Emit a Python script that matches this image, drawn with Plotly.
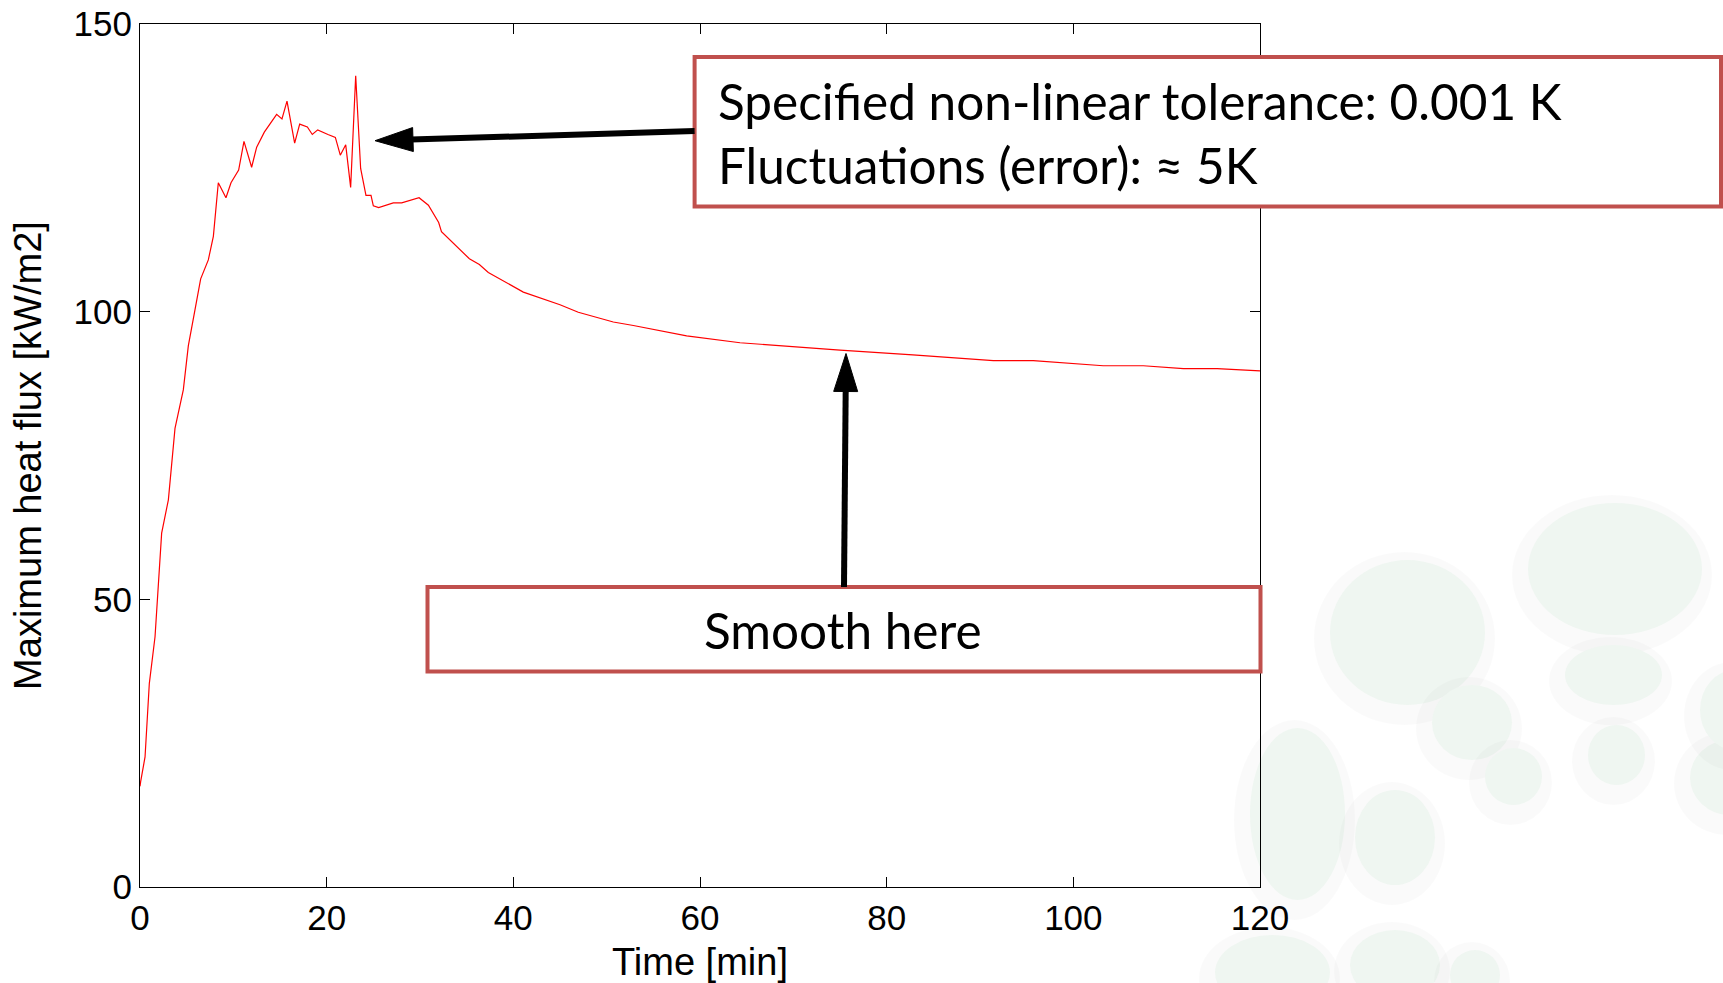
import numpy as np
import plotly.graph_objects as go

# ---------------- data ----------------
time_min = [0.0, 0.07, 0.54, 1.0, 1.61, 1.86, 2.32, 3.04, 3.75, 4.64, 5.18, 5.89, 6.5,
            7.32, 7.86, 8.39, 9.21, 9.75, 10.57, 11.14, 11.96, 12.5, 13.32, 14.64, 15.21,
            15.75, 16.57, 17.11, 17.93, 18.46, 19.04, 20.14, 20.93, 21.46, 22.04, 22.57,
            23.11, 23.64, 24.21, 24.75, 25.0, 25.57, 27.14, 28.04, 29.9, 30.9, 31.6, 32.0,
            32.3, 33.57, 35.29, 36.36, 37.32, 41.07, 45.0, 46.96, 50.71, 52.86, 56.43,
            58.57, 64.29, 69.29, 75.0, 82.8, 91.43, 95.71, 103.2, 107.5, 111.8, 115.4, 120.0]
heat_flux = [17.5, 18.3, 22.6, 35.4, 43.5, 50.1, 61.5, 67.3, 79.7, 86.4, 94.1, 100.3, 105.7,
             109.0, 113.1, 122.4, 119.8, 122.4, 124.6, 129.6, 125.1, 128.6, 131.2, 134.3, 133.5,
             136.6, 129.3, 132.6, 132.1, 130.8, 131.6, 130.8, 130.3, 127.2, 129.0, 121.6,
             141.0, 124.9, 120.2, 120.2, 118.4, 118.1, 118.9, 118.9, 119.8, 118.5, 116.6, 115.5,
             113.9, 111.9, 109.2, 108.2, 106.8, 103.4, 101.2, 99.9, 98.2, 97.6, 96.4,
             95.8, 94.6, 94.0, 93.3, 92.5, 91.5, 91.5, 90.6, 90.6, 90.1, 90.1, 89.7]

x_ticks = [0, 20, 40, 60, 80, 100, 120]
y_ticks = [0, 50, 100, 150]

note_top = "Specified non-linear tolerance: 0.001 K<br>Fluctuations (error): ≈ 5K"
note_bottom = "Smooth here"

# ---------------- layout geometry (pixels) ----------------
W, H = 1723, 983
L, R, T, B = 140, 1260, 24, 887


def px(x):
    return (x - L) / (R - L)


def py(y):
    return (B - y) / (B - T)


BOX_RED = "#C0504D"
shapes = []

# faint decorative background discs (bottom-right)
discs = [
    (1528, 1702, 503, 635), (1330, 1485, 560, 705), (1250, 1345, 728, 900),
    (1432, 1512, 685, 760), (1565, 1662, 645, 705), (1588, 1645, 725, 785),
    (1485, 1542, 748, 805), (1355, 1435, 790, 885), (1690, 1770, 740, 815),
    (1700, 1770, 670, 750), (1215, 1330, 935, 1010), (1350, 1440, 930, 1000),
    (1450, 1500, 950, 1000),
]
for x0, x1, y0, y1 in discs:
    shapes.append(dict(type="circle", xref="paper", yref="paper", layer="below",
                       x0=px(x0 - 16), x1=px(x1 + 10), y0=py(y1 + 20), y1=py(y0 - 8),
                       fillcolor="rgba(0,0,0,0.018)", line=dict(width=0)))
    shapes.append(dict(type="circle", xref="paper", yref="paper", layer="below",
                       x0=px(x0), x1=px(x1), y0=py(y1), y1=py(y0),
                       fillcolor="#EFF6F1", line=dict(width=0)))

# annotation boxes
shapes.append(dict(type="rect", xref="paper", yref="paper", layer="above",
                   x0=px(694.6), x1=px(1721), y0=py(206.6), y1=py(57),
                   fillcolor="white", line=dict(color=BOX_RED, width=4)))
shapes.append(dict(type="rect", xref="paper", yref="paper", layer="above",
                   x0=px(427.5), x1=px(1260.5), y0=py(671.5), y1=py(587),
                   fillcolor="white", line=dict(color=BOX_RED, width=4)))


def arrow(tail, tip, head_len=38, head_half=12, width=6):
    tail = np.array(tail, float)
    tip = np.array(tip, float)
    u = (tip - tail) / np.linalg.norm(tip - tail)
    n = np.array([-u[1], u[0]])
    base = tip - head_len * u
    c1 = base + head_half * n
    c2 = base - head_half * n
    out = [dict(type="line", xref="paper", yref="paper", layer="above",
                x0=px(tail[0]), y0=py(tail[1]), x1=px(base[0] + 2 * u[0]), y1=py(base[1] + 2 * u[1]),
                line=dict(color="black", width=width)),
           dict(type="path", xref="paper", yref="paper", layer="above",
                path=f"M {px(tip[0])},{py(tip[1])} L {px(c1[0])},{py(c1[1])} "
                     f"L {px(c2[0])},{py(c2[1])} Z",
                fillcolor="black", line=dict(color="black", width=1))]
    return out


shapes += arrow((694.6, 131), (375, 140.7))
shapes += arrow((844, 587), (846, 353.5))

fig = go.Figure()
fig.add_trace(go.Scatter(x=time_min, y=heat_flux, mode="lines",
                         line=dict(color="#FF0000", width=1.2), showlegend=False,
                         hoverinfo="skip"))

axis_font = dict(family="Liberation Sans, Arial, sans-serif", size=35, color="black")
title_font = dict(family="Liberation Sans, Arial, sans-serif", size=38, color="black")

fig.update_xaxes(range=[0, 120], tickvals=x_ticks, ticktext=[str(v) for v in x_ticks],
                 ticks="inside", ticklen=10, tickwidth=1, tickcolor="black",
                 showline=True, linecolor="black", linewidth=1.2, mirror="ticks",
                 showgrid=False, zeroline=False, tickfont=axis_font, automargin=False,
                 title=dict(text="Time [min]", font=title_font, standoff=14))
fig.update_yaxes(range=[0, 150], tickvals=y_ticks, ticktext=[str(v) for v in y_ticks],
                 ticks="inside", ticklen=10, tickwidth=1, tickcolor="black",
                 showline=True, linecolor="black", linewidth=1.2, mirror="ticks",
                 showgrid=False, zeroline=False, tickfont=axis_font, automargin=False,
                 title=dict(text="Maximum heat flux [kW/m2]", font=title_font, standoff=20))

note_font = dict(family="Lato, Open Sans, sans-serif", size=49.5, color="black")
annotations = [
    dict(xref="paper", yref="paper", x=px(716), y=py(133), xanchor="left", yanchor="middle",
         text=note_top, showarrow=False, align="left", font=note_font),
    dict(xref="paper", yref="paper", x=px(843), y=py(630), xanchor="center", yanchor="middle",
         text=note_bottom, showarrow=False, align="center", font=note_font),
]

fig.update_layout(width=W, height=H,
                  margin=dict(l=L, r=W - R, t=T, b=H - B, pad=0, autoexpand=False),
                  paper_bgcolor="white", plot_bgcolor="white",
                  shapes=shapes, annotations=annotations, showlegend=False)

fig.write_html("out.html")
